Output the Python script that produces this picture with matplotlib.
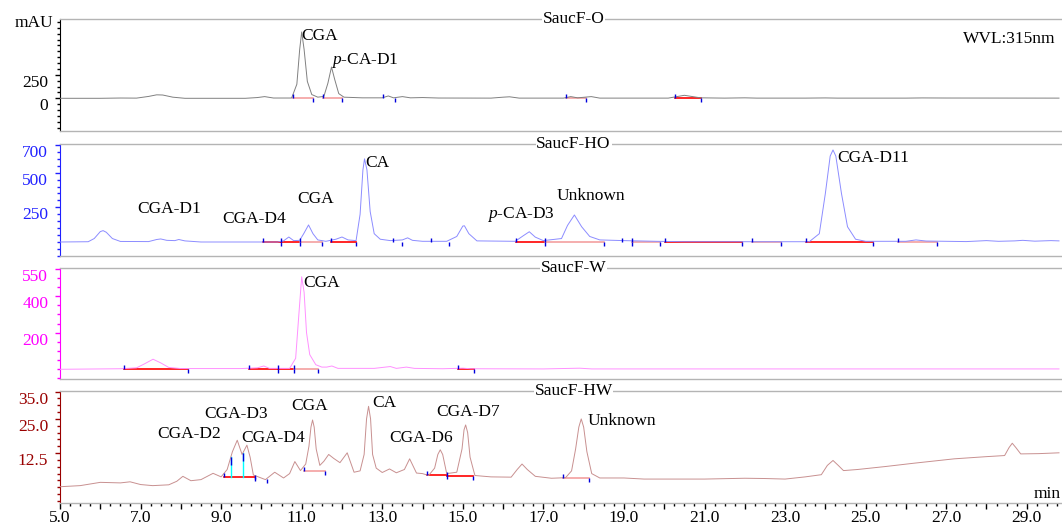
import numpy as np
import matplotlib.pyplot as plt
import matplotlib.transforms as mtransforms
from matplotlib.ticker import MultipleLocator, FixedLocator

plt.rcParams.update({
    "font.family": ["Liberation Serif", "DejaVu Serif"],
    "font.size": 12.5,
    "mathtext.fontset": "custom",
    "mathtext.rm": "Liberation Serif",
    "mathtext.it": "Liberation Serif:italic"})

# ---- SaucF-O (mAU) ----
t_o = [5.0, 6.0, 6.5, 6.9, 7.2, 7.4, 7.55, 7.8, 8.1, 9.6, 9.9, 10.08, 10.3, 10.75, 10.88, 10.95,
       11.0, 11.06, 11.14, 11.25, 11.4, 11.55, 11.65, 11.74, 11.82, 11.92, 12.05, 12.5, 13.0, 13.15,
       13.28, 13.5, 13.7, 14.0, 14.4, 15.7, 16.0, 16.16, 16.4, 17.5, 17.68, 17.85, 18.19, 18.4, 20.1,
       20.5, 20.9, 21.5, 22.0, 22.3, 23.5, 24.0, 24.3, 26.0, 26.4, 27.0, 29.8]
v_o = [0, 0, 3, 2, 20, 37, 35, 12, 0, 0, 8, 18, 3, 3, 150, 520,
       706, 520, 180, 40, 12, 20, 160, 333, 200, 50, 12, 5, 5, 25,
       5, 18, 5, 8, 3, 2, 12, 16, 2, 2, 18, 5, 18, 2, 2,
       32, 5, 2, 5, 2, 2, 4, 2, 2, 4, 3, 2]
seg_o = [(10.78, 11.27, 0, 0, "#f4a0a0"), (11.52, 11.99, 0, 0, "#f4a0a0"), (13.01, 13.31, 0, 0, "none"),
         (17.55, 18.05, 0, 0, "#f4a0a0"), (20.27, 20.92, 0, 0, "red")]
lab_o = [("CGA", 11.0, 663), ("$p$-CA-D1", 11.74, 407)]

# ---- SaucF-HO ----
t_ho = [5.0, 5.7, 5.85, 6.0, 6.07, 6.15, 6.3, 6.5, 7.2, 7.4, 7.5, 7.65, 7.85, 7.95, 8.1, 8.5, 10.4,
        10.55, 10.68, 10.8, 10.95, 11.05, 11.17, 11.28, 11.4, 11.6, 11.85, 12.0, 12.15, 12.35, 12.45,
        12.52, 12.56, 12.62, 12.7, 12.8, 12.95, 13.2, 13.5, 13.63, 13.75, 14.0, 14.6, 14.85, 15.0,
        15.04, 15.15, 15.35, 16.3, 16.5, 16.65, 16.8, 17.0, 17.45, 17.6, 17.77, 17.95, 18.15, 18.4,
        19.0, 19.8, 20.5, 23.6, 23.85, 24.0, 24.12, 24.19, 24.26, 24.4, 24.55, 24.75, 25.0, 26.0,
        26.25, 26.5, 27.5, 28.0, 28.3, 28.7, 28.9, 29.2, 29.6, 29.8]
v_ho = [0, 2, 25, 75, 82, 70, 25, 4, 3, 18, 22, 12, 10, 18, 8, 0, 0,
        8, 36, 10, 12, 60, 123, 60, 15, 5, 20, 36, 15, 10, 200,
        520, 600, 520, 220, 60, 20, 10, 15, 30, 12, 5, 5, 40, 115,
        117, 60, 8, 5, 45, 74, 35, 10, 25, 120, 195, 110, 40, 15,
        10, 5, 2, 2, 60, 350, 620, 664, 620, 350, 110, 20, 5, 5,
        15, 7, 3, 10, 5, 8, 12, 6, 10, 8]
seg_ho = [(10.03, 10.48, 0, 0, "red"), (10.48, 10.95, 0, 0, "red"), (10.95, 11.50, 0, 0, "#f4a0a0"),
          (11.74, 12.36, 0, 0, "red"), (13.26, 13.50, 0, 0, "none"), (14.20, 14.65, 0, 0, "none"),
          (16.33, 17.05, 0, 0, "red"), (17.05, 18.51, 0, 0, "#f4a0a0"), (18.94, 19.21, 0, 0, "none"),
          (19.21, 19.90, 0, 0, "#f4a0a0"), (20.03, 21.93, 0, 0, "red"), (22.18, 22.90, 0, 0, "#f4a0a0"),
          (23.52, 25.18, 0, 0, "red"), (25.80, 26.77, 0, 0, "#f4a0a0")]
lab_ho = [("CGA-D1", 6.91, 238), ("CGA-D4", 9.02, 166), ("CGA", 10.88, 310), ("CA", 12.59, 570),
          ("$p$-CA-D3", 15.59, 195), ("Unknown", 17.32, 332), ("CGA-D11", 24.29, 606)]

# ---- SaucF-W ----
t_w = [5.0, 6.5, 6.9, 7.1, 7.31, 7.5, 7.7, 8.0, 9.5, 9.9, 10.06, 10.2, 10.7, 10.85, 10.93, 11.0,
       11.06, 11.12, 11.2, 11.35, 11.5, 11.62, 11.75, 11.9, 12.8, 13.0, 13.2, 13.35, 13.6, 13.8,
       14.5, 15.0, 15.2, 17.0, 17.9, 18.2, 22.0, 29.8]
v_w = [0, 3, 8, 30, 55, 35, 10, 4, 4, 8, 18, 5, 5, 60, 300, 505,
       420, 200, 80, 25, 12, 12, 18, 5, 5, 10, 15, 5, 12, 5,
       3, 6, 3, 2, 6, 2, 2, 2]
seg_w = [(6.59, 8.17, 0, 0, "red"), (9.69, 10.41, 0, 0, "red"), (10.41, 10.80, 0, 0, "red"),
         (10.80, 11.40, 0, 0, "#f4a0a0"), (14.87, 15.29, 0, 0, "red")]
lab_w = [("CGA", 11.03, 471)]

# ---- SaucF-HW ----
t_hw = [5.0, 5.5, 6.0, 6.5, 6.74, 7.0, 7.3, 7.7, 7.9, 8.05, 8.25, 8.5, 8.8, 9.0, 9.15, 9.28, 9.4,
        9.52, 9.64, 9.72, 9.8, 10.1, 10.33, 10.55, 10.7, 10.83, 10.97, 11.1, 11.18, 11.23, 11.27,
        11.31, 11.36, 11.45, 11.55, 11.67, 11.8, 11.95, 12.13, 12.3, 12.45, 12.55, 12.61, 12.66,
        12.71, 12.76, 12.85, 13.0, 13.18, 13.35, 13.55, 13.68, 13.85, 14.0, 14.15, 14.3, 14.38,
        14.44, 14.5, 14.6, 14.85, 14.98, 15.03, 15.07, 15.12, 15.18, 15.3, 15.7, 16.2, 16.35, 16.47,
        16.6, 16.8, 17.2, 17.55, 17.7, 17.8, 17.88, 17.94, 18.0, 18.08, 18.2, 18.4, 19.0, 19.5,
        21.0, 22.0, 22.5, 23.0, 23.5, 23.9, 24.05, 24.19, 24.32, 24.45, 24.8, 25.5, 26.2, 27.2,
        28.0, 28.45, 28.56, 28.64, 28.73, 28.85, 29.3, 29.8]
v_hw = [0.2, 0.6, 1.8, 1.6, 2.0, 1.0, 0.6, 0.9, 2.2, 4.0, 2.4, 2.8, 5.1, 3.8, 6.5, 13.0, 17.2,
        12.0, 15.4, 11.0, 4.5, 2.8, 5.5, 3.4, 5.0, 9.4, 6.1, 8.5, 15.0, 22.0, 24.6,
        22.0, 14.0, 8.0, 9.5, 12.0, 10.5, 9.0, 12.6, 5.5, 6.0, 12.0, 25.0, 29.6,
        25.0, 12.0, 7.0, 5.4, 6.7, 5.3, 6.5, 10.4, 5.2, 5.0, 4.3, 7.0, 12.0,
        13.7, 12.0, 5.0, 5.5, 14.0, 21.0, 22.8, 20.0, 11.0, 4.3, 3.8, 3.7, 6.5, 8.5,
        6.5, 4.0, 3.3, 3.5, 6.0, 14.0, 22.0, 25.0, 22.0, 13.0, 5.0, 3.4, 3.4, 3.0,
        3.0, 3.3, 3.2, 3.0, 3.8, 4.6, 8.0, 9.8, 8.0, 6.1, 6.5, 7.6, 8.8, 10.4,
        11.2, 11.6, 14.5, 16.1, 14.5, 12.2, 12.3, 12.6]
seg_hw = [(9.07, 9.84, 3.66, 3.66, "red"), (9.84, 10.13, 3.0, 3.0, "none"),
          (11.05, 11.57, 6.1, 6.1, "#f4a0a0"), (14.12, 14.61, 4.5, 4.5, "red"),
          (14.61, 15.26, 4.0, 4.0, "red"), (17.48, 18.14, 3.4, 3.4, "#f4a0a0")]
drop_hw = [9.24, 9.54]
lab_hw = [("CGA-D2", 7.41, 19.5), ("CGA-D3", 8.57, 26.8), ("CGA-D4", 9.51, 18.0), ("CGA", 10.75, 29.8),
          ("CA", 12.76, 30.9), ("CGA-D6", 13.18, 18.0), ("CGA-D7", 14.35, 27.6), ("Unknown", 18.09, 24.3)]

panels = [
    # name, t, v, segs, labels, ylim, major ticks, tick labels, minor step, axis colour, trace colour
    ("SaucF-O", t_o, v_o, seg_o, lab_o, (-348, 844), [0, 250], ["0", "250"], 62.5, "black", "#808080"),
    ("SaucF-HO", t_ho, v_ho, seg_ho, lab_ho, (-101, 707), [250, 500, 700], ["250", "500", "700"], 50,
     "#2020ff", "#8c8cff"),
    ("SaucF-W", t_w, v_w, seg_w, lab_w, (-53, 553), [200, 400, 550], ["200", "400", "550"], 50,
     "#ff00ff", "#ff90ff"),
    ("SaucF-HW", t_hw, v_hw, seg_hw, lab_hw, (-5.75, 35.2), [12.5, 25.0, 35.0], ["12.5", "25.0", "35.0"], 2.5,
     "#990000", "#c89090"),
]
# axes boxes in pixels (top, bottom) of a 1062x524 canvas
boxes = [(19, 131), (144, 256), (268, 379), (391, 503)]

W, H = 1062, 524
fig = plt.figure(figsize=(W / 100, H / 100), dpi=100)
offset = mtransforms.ScaledTranslation(0, -0.06, fig.dpi_scale_trans)

axes = []
for (name, t, v, segs, labs, ylim, yt, ytl, ystep, acol, tcol), (top, bot) in zip(panels, boxes):
    ax = fig.add_axes([60 / W, 1 - bot / H, 1001 / W, (bot - top) / H])
    axes.append(ax)
    ax.plot(t, v, color=tcol, lw=0.7, zorder=3)
    for t0, t1, y0, y1, c in segs:
        if c != "none":
            ax.plot([t0, t1], [y0, y1], color=c, lw=1.2, zorder=2)
        ax.plot([t0], [y0], marker=2, color="#0000dd", ms=3, mew=1, zorder=4)
        ax.plot([t1], [y1], marker=3, color="#0000dd", ms=3, mew=1, zorder=4)
    for lab, x, y in labs:
        ax.text(x, y, lab, ha="left", va="center", fontsize=12.5, zorder=5)
    ax.text(17.75, 1.0, name, transform=ax.get_xaxis_transform(), ha="center", va="center",
            fontsize=12.5, bbox=dict(facecolor="white", edgecolor="none", pad=0.5), zorder=6)

    ax.set_xlim(5.0, 29.85)
    ax.set_ylim(*ylim)
    for s in ["top", "bottom"]:
        ax.spines[s].set_color("#b4b4b4")
        ax.spines[s].set_linewidth(1.0)
    ax.spines["right"].set_visible(False)
    ax.spines["left"].set_color(acol)
    ax.yaxis.set_major_locator(FixedLocator(yt))
    ax.set_yticklabels(ytl)
    ax.yaxis.set_minor_locator(MultipleLocator(ystep))
    ax.tick_params(axis="y", which="major", direction="out", length=3.5, width=1, colors=acol, pad=5,
                   labelsize=12.5)
    ax.tick_params(axis="y", which="minor", direction="out", length=2.5, width=1, colors=acol)
    for lab in ax.get_yticklabels():
        lab.set_transform(lab.get_transform() + offset)

# drop lines between CGA-D3 / CGA-D4 in SaucF-HW
ax = axes[3]
for td in drop_hw:
    ax.plot([td, td], [3.66, np.interp(td, t_hw, v_hw)], color="cyan", lw=1, zorder=2)
    ax.plot([td], [np.interp(td, t_hw, v_hw) - 1.5], marker="|", color="#0000dd", ms=6, mew=1, zorder=4)

for ax in axes[:3]:
    ax.tick_params(axis="x", which="both", bottom=False, labelbottom=False)

ax = axes[3]
ax.xaxis.set_major_locator(MultipleLocator(1.0))
ax.xaxis.set_minor_locator(MultipleLocator(0.25))
ax.xaxis.set_major_formatter(lambda x, pos: "%.1f" % x if int(round(x)) % 2 == 1 else "")
ax.tick_params(axis="x", which="major", direction="out", length=4, width=1, colors="black", pad=1,
               labelsize=12.5)
ax.tick_params(axis="x", which="minor", direction="out", length=2.5, width=1, colors="black")
ax.text(1.0, 0.08, "min", transform=ax.transAxes, ha="right", va="center", fontsize=12.5)

axes[0].text(29.72, 631, "WVL:315nm", ha="right", va="center", fontsize=12.5)
fig.text(53 / W, 1 - 23 / H, "mAU", ha="right", va="center", fontsize=12.5)

plt.savefig("out.png", dpi=100)
